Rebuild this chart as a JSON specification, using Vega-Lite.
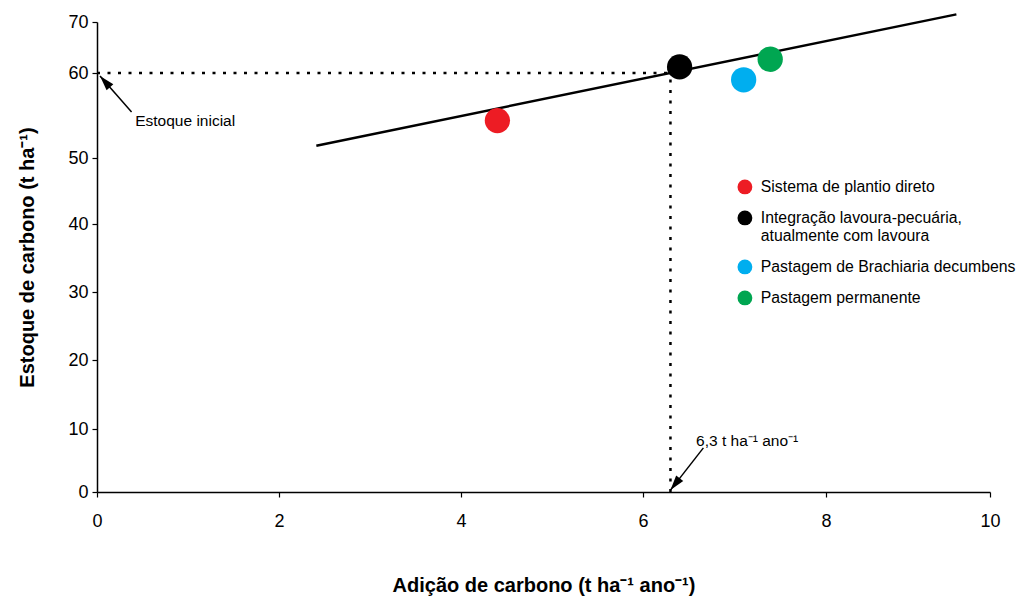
{
  "$schema": "https://vega.github.io/schema/vega-lite/v6.json",
  "width": 893,
  "height": 470,
  "autosize": {"type": "none"},
  "padding": {"left": 97, "top": 22, "right": 27, "bottom": 106},
  "background": "white",
  "config": {
    "view": {"stroke": null},
    "font": "Liberation Sans",
    "axis": {
      "grid": false,
      "domainColor": "black",
      "domainWidth": 1.5,
      "tickColor": "black",
      "tickWidth": 1.2,
      "tickSize": 5,
      "labelColor": "black",
      "labelFont": "Liberation Sans",
      "labelFontSize": 18,
      "labelFlush": false,
      "titleColor": "black",
      "titleFont": "Liberation Sans",
      "titleFontSize": 20,
      "titleFontWeight": "bold"
    }
  },
  "encoding": {
    "x": {
      "field": "x",
      "type": "quantitative",
      "scale": {"domain": [0, 2, 4, 6, 8, 10], "range": [0, 182, 364, 546, 729, 893], "nice": false},
      "axis": {"values": [0, 2, 4, 6, 8, 10], "title": "Adição de carbono (t ha⁻¹ ano⁻¹)", "labelPadding": 15, "titlePadding": 45}
    },
    "y": {
      "field": "y",
      "type": "quantitative",
      "scale": {"domain": [0, 10, 20, 30, 40, 50, 60, 70], "range": [470, 407, 338, 270, 202, 136, 51, 0], "nice": false},
      "axis": {"values": [0, 10, 20, 30, 40, 50, 60, 70], "title": "Estoque de carbono (t ha⁻¹)", "labelPadding": 4, "titlePadding": 30}
    }
  },
  "layer": [
    {
      "data": {"values": [
        {"x": 0, "y": 60, "x2": 6.3, "y2": 60},
        {"x": 6.3, "y": 0, "x2": 6.3, "y2": 60}
      ]},
      "mark": {"type": "rule", "color": "black", "strokeWidth": 2.5, "strokeDash": [3, 7.5]},
      "encoding": {"x2": {"field": "x2"}, "y2": {"field": "y2"}}
    },
    {
      "data": {"values": [
        {"x": 2.41, "y": 51.45},
        {"x": 9.59, "y": 71.5}
      ]},
      "mark": {"type": "line", "color": "black", "strokeWidth": 2.5}
    },
    {
      "data": {"values": [
        {"x": 0.38, "y": 55.4, "x2": 0.033, "y2": 59.65},
        {"x": 6.66, "y": 7.0, "x2": 6.3, "y2": 0.3}
      ]},
      "mark": {"type": "rule", "color": "black", "strokeWidth": 1.5},
      "encoding": {"x2": {"field": "x2"}, "y2": {"field": "y2"}}
    },
    {
      "data": {"values": [{"x": 0.033, "y": 59.65}]},
      "mark": {"type": "point", "shape": "M0,0L0.6,2L-0.6,2Z", "size": 225, "filled": true, "color": "black", "opacity": 1, "angle": 318.4}
    },
    {
      "data": {"values": [{"x": 6.3, "y": 0.3}]},
      "mark": {"type": "point", "shape": "M0,0L0.6,2L-0.6,2Z", "size": 225, "filled": true, "color": "black", "opacity": 1, "angle": 218.2}
    },
    {
      "data": {"values": [
        {"x": 4.40, "y": 54.4, "sistema": "Sistema de plantio direto"},
        {"x": 6.40, "y": 61.2, "sistema": "Integração lavoura-pecuária, atualmente com lavoura"},
        {"x": 7.10, "y": 59.2, "sistema": "Pastagem de Brachiaria decumbens"},
        {"x": 7.39, "y": 62.7, "sistema": "Pastagem permanente"}
      ]},
      "mark": {"type": "circle", "size": 640, "opacity": 1},
      "encoding": {
        "color": {
          "field": "sistema",
          "type": "nominal",
          "scale": {
            "domain": ["Sistema de plantio direto", "Integração lavoura-pecuária, atualmente com lavoura", "Pastagem de Brachiaria decumbens", "Pastagem permanente"],
            "range": ["#ED1C24", "#000000", "#00AEEF", "#00A651"]
          },
          "legend": {
            "title": null,
            "orient": "none",
            "legendX": 640,
            "legendY": 157,
            "padding": 0,
            "symbolType": "circle",
            "symbolSize": 220,
            "symbolStrokeWidth": 0,
            "labelFont": "Liberation Sans",
            "labelFontSize": 15.8,
            "labelColor": "black",
            "labelLimit": 400,
            "labelOffset": 8,
            "rowPadding": 14,
            "labelExpr": "datum.label == 'Integração lavoura-pecuária, atualmente com lavoura' ? ['Integração lavoura-pecuária,', 'atualmente com lavoura'] : datum.label"
          }
        }
      }
    },
    {
      "data": {"values": [
        {"x": 0.42, "y": 54.35, "label": "Estoque inicial"},
        {"x": 6.58, "y": 8.1, "label": "6,3 t ha⁻¹ ano⁻¹"}
      ]},
      "mark": {"type": "text", "align": "left", "baseline": "middle", "fontSize": 15.5, "color": "black", "font": "Liberation Sans"},
      "encoding": {"text": {"field": "label"}}
    }
  ]
}
